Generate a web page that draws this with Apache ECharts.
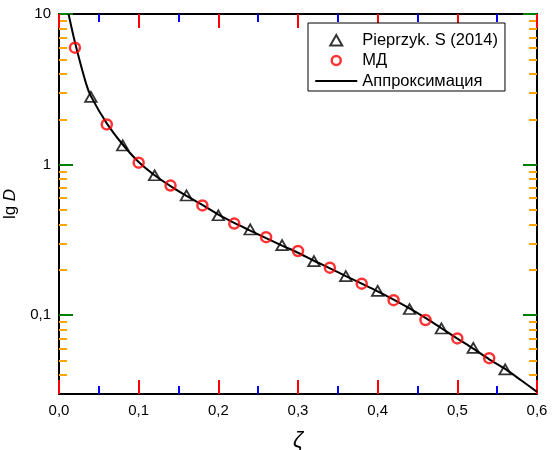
<!DOCTYPE html>
<html><head><meta charset="utf-8">
<script src="https://cdn.jsdelivr.net/npm/echarts@6/dist/echarts.min.js"></script>
<style>html,body{margin:0;padding:0;background:#fff}#c{width:554px;height:450px}</style>
</head><body><div id="c"></div>
<script>
const zetaMD = [0.02,0.06,0.10,0.14,0.18,0.22,0.26,0.30,0.34,0.38,0.42,0.46,0.50,0.54];
const dMD = [5.98,1.85,1.03,0.726,0.536,0.406,0.330,0.267,0.207,0.162,0.126,0.093,0.0702,0.0519];
const zetaP = [0.04,0.08,0.12,0.16,0.20,0.24,0.28,0.32,0.36,0.40,0.44,0.48,0.52,0.56];
const dP = [2.82,1.34,0.85,0.624,0.461,0.371,0.292,0.229,0.182,0.145,0.110,0.0817,0.0608,0.0437];
const zetaFit = [0.012,0.02,0.034,0.04,0.06,0.08,0.10,0.12,0.14,0.16,0.18,0.20,0.22,0.24,0.26,0.28,0.30,0.32,0.34,0.36,0.38,0.40,0.42,0.44,0.46,0.48,0.50,0.52,0.54,0.56,0.58,0.60];
const dFit = [10,6.5,3.45,2.85,1.88,1.36,1.04,0.85,0.72,0.62,0.54,0.465,0.41,0.365,0.325,0.29,0.26,0.23,0.205,0.182,0.162,0.144,0.127,0.111,0.096,0.082,0.070,0.060,0.051,0.044,0.037,0.031];
const xTickLabels = ['0,0','0,1','0,2','0,3','0,4','0,5','0,6'];
const yMajor = [0.1,1,10];
const yMajorLabels = ['0,1','1','10'];
const yMinor = [0.04,0.05,0.06,0.07,0.08,0.09,0.2,0.3,0.4,0.5,0.6,0.7,0.8,0.9,2,3,4,5,6,7,8,9];

const FONT = '"Liberation Sans", Arial, Helvetica, sans-serif';
const yMin = 0.03, yMax = 10;
const lg = v => Math.log10(v);
const pair = (xs, ys) => xs.map((x, i) => [x, ys[i]]);

function xAx(pos, labels) {
  return {
    type: 'value', position: pos, min: 0, max: 0.6, interval: 0.1,
    axisLine: {show: true, onZero: false, lineStyle: {color: '#000', width: 2}},
    splitLine: {show: false},
    axisTick: {show: true, inside: true, length: 14, lineStyle: {color: 'red', width: 2}},
    minorTick: {show: true, splitNumber: 2, length: 8, lineStyle: {color: 'blue', width: 2}},
    axisLabel: {show: labels, color: '#000', fontFamily: FONT, fontSize: 15, margin: 9,
      formatter: v => labels ? xTickLabels[Math.round(v * 10)] : ''},
    name: labels ? 'ζ' : '', nameLocation: 'middle', nameGap: 36,
    nameTextStyle: {color: '#000', fontFamily: FONT, fontSize: 22, fontStyle: 'italic'}
  };
}
function yAx(pos, major, labels) {
  const vals = (major ? yMajor : yMinor).map(lg);
  return {
    type: 'value', position: pos, min: lg(yMin), max: lg(yMax),
    axisLine: {show: major, onZero: false, lineStyle: {color: '#000', width: 2}},
    splitLine: {show: false},
    axisTick: {show: true, inside: true, length: major ? 14 : 8, customValues: vals,
      lineStyle: {color: major ? 'green' : 'orange', width: 2}},
    axisLabel: {show: labels, customValues: vals, color: '#000', fontFamily: FONT, fontSize: 15, margin: 8,
      formatter: v => {const i = yMajor.findIndex(m => Math.abs(lg(m) - v) < 1e-6); return (labels && i >= 0) ? yMajorLabels[i] : '';}},
    name: labels ? '{n|lg }{i|D}' : '', nameLocation: 'middle', nameGap: 22, nameRotate: 90,
    nameTextStyle: {color: '#000', fontFamily: FONT, fontSize: 17,
      rich: {n: {fontFamily: FONT, fontSize: 17, color: '#000'}, i: {fontFamily: FONT, fontSize: 17, fontStyle: 'italic', color: '#000'}}}
  };
}

const PAD = 'M0 0L0 0M42 14L42 14';
const iconTri = 'path://' + PAD + 'M15 12.5L21 2L27 12.5Z';
const iconCirc = 'path://' + PAD + 'M16.5 7A4.5 4.5 0 1 1 25.5 7A4.5 4.5 0 1 1 16.5 7Z';
const iconLine = 'path://' + PAD + 'M0 6H42V8H0Z';

const chart = echarts.init(document.getElementById('c'), null, {renderer: 'canvas'});
chart.setOption({
  animation: false,
  backgroundColor: '#fff',
  grid: {left: 59, right: 17, top: 14, bottom: 56, containLabel: false, outerBoundsMode: 'none'},
  xAxis: [xAx('bottom', true), xAx('top', false)],
  yAxis: [
    {type: 'log', logBase: 10, min: yMin, max: yMax, show: false},
    yAx('left', true, true), yAx('left', false, false),
    yAx('right', true, false), yAx('right', false, false)
  ],
  legend: {
    left: 308, top: 23, orient: 'vertical',
    padding: [7, 7, 0, 6],
    borderColor: '#000', borderWidth: 1, backgroundColor: '#fff',
    itemWidth: 42, itemHeight: 14, itemGap: 0.5,
    textStyle: {color: '#000', fontFamily: FONT, fontSize: 16.5, lineHeight: 20},
    data: [
      {name: 'Pieprzyk. S (2014)', icon: iconTri, itemStyle: {color: 'rgba(0,0,0,0)', borderColor: '#000', borderWidth: 2}},
      {name: 'МД', icon: iconCirc, itemStyle: {color: 'rgba(0,0,0,0)', borderColor: '#ff0000', borderWidth: 2.5}},
      {name: 'Аппроксимация', icon: iconLine, itemStyle: {color: '#000', borderWidth: 0}}
    ]
  },
  series: [
    {name: 'Аппроксимация', type: 'line', yAxisIndex: 0, data: pair(zetaFit, dFit), smooth: 0.3,
      symbol: 'none', lineStyle: {color: '#000', width: 2}, itemStyle: {color: '#000'}, z: 3},
    {name: 'Pieprzyk. S (2014)', type: 'scatter', yAxisIndex: 0, data: pair(zetaP, dP),
      symbol: 'triangle', symbolSize: [11.5, 10],
      itemStyle: {color: 'rgba(0,0,0,0)', borderColor: '#000', borderWidth: 1.8}, z: 4},
    {name: 'МД', type: 'scatter', yAxisIndex: 0, data: pair(zetaMD, dMD),
      symbol: 'circle', symbolSize: 10,
      itemStyle: {color: 'rgba(0,0,0,0)', borderColor: '#ff0000', borderWidth: 2.5}, z: 4}
  ]
});
</script></body></html>
